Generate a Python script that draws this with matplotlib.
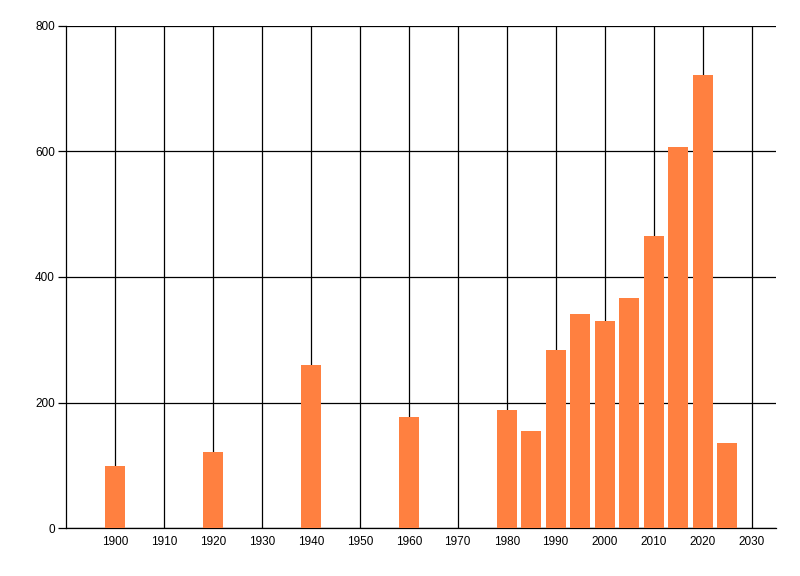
import matplotlib
matplotlib.use("Agg")
import matplotlib.pyplot as plt

# values
years = [1900, 1920, 1940, 1960, 1980, 1985, 1990, 1995, 2000, 2005, 2010, 2015, 2020, 2025]
counts = [99, 121, 260, 177, 188, 155, 284, 341, 330, 366, 465, 607, 722, 135]
xticks = list(range(1900, 2031, 10))
yticks = [0, 200, 400, 600, 800]

plt.rcParams['font.family'] = ['Liberation Sans', 'DejaVu Sans']

fig = plt.figure(figsize=(8, 5.76), dpi=100)
ax = fig.add_axes([0.0825, 0.0833, 0.8875, 0.8716])

ax.bar(years, counts, width=4.1, color="#FF8040", zorder=3)

ax.set_xlim(1890, 2035)
ax.set_ylim(0, 800)
ax.set_xticks(xticks)
ax.set_yticks(yticks)
ax.grid(True, color="black", linewidth=0.9, zorder=0)
ax.set_axisbelow(True)

for s in ["top", "right"]:
    ax.spines[s].set_visible(False)
for s in ["left", "bottom"]:
    ax.spines[s].set_color("black")
    ax.spines[s].set_linewidth(0.9)

ax.tick_params(axis="x", length=0, pad=6, labelsize=8.5)
ax.tick_params(axis="y", length=6, width=0.9, pad=2, labelsize=8.5)

fig.savefig("out.png", dpi=100)
